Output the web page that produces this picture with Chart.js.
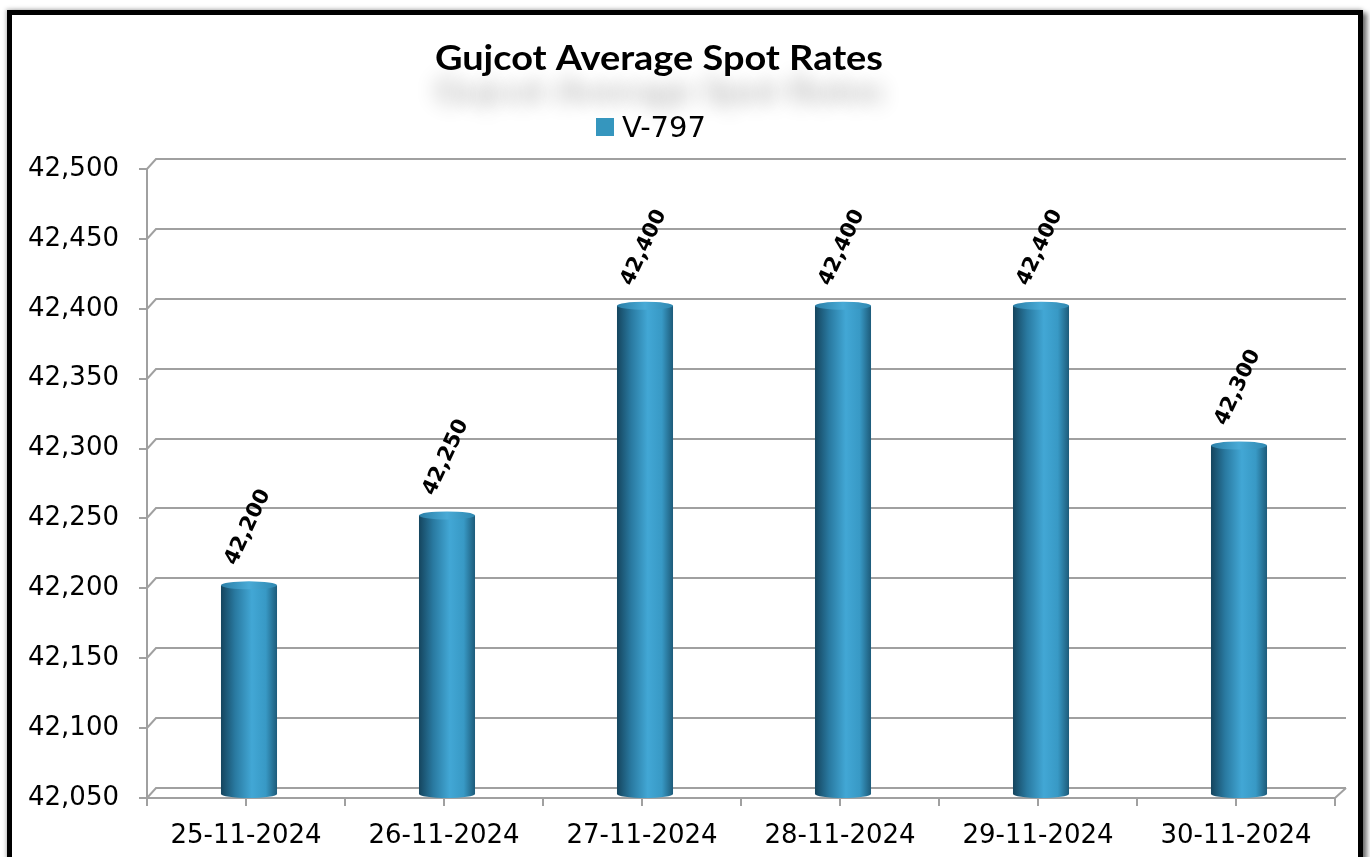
<!DOCTYPE html>
<html>
<head>
<meta charset="utf-8">
<script src="https://cdn.jsdelivr.net/npm/chart.js@4.4.1/dist/chart.umd.min.js"></script>
<style>
  html, body { margin: 0; padding: 0; background: #ffffff; overflow: hidden; }
  #frame {
    position: absolute; left: 7px; top: 10px; width: 1346px; height: 900px;
    border: 5px solid #000; background: #fff;
    box-shadow: 4px 3px 5px rgba(0,0,0,0.55), -1px -1px 4px rgba(0,0,0,0.25);
  }
  #c { position: absolute; left: 0; top: 0; }
</style>
</head>
<body>
<div id="frame"></div>
<canvas id="c" width="1370" height="857"></canvas>
<script>
// ---- data ----
const chartTitle = 'Gujcot Average Spot Rates';
const seriesName = 'V-797';
const categories = ['25-11-2024', '26-11-2024', '27-11-2024', '28-11-2024', '29-11-2024', '30-11-2024'];
const values = [42200, 42250, 42400, 42400, 42400, 42300];
const yTickValues = [42050, 42100, 42150, 42200, 42250, 42300, 42350, 42400, 42450, 42500];

const fmt = v => Number(v).toLocaleString('en-US');
const GRID = '#a0a0a0';
const DX = 9, DY = 10; // 3D depth offset

const gridPlugin = {
  id: 'grid3d',
  beforeDatasetsDraw(chart) {
    const ctx = chart.ctx, a = chart.chartArea, ys = chart.scales.y;
    ctx.save();
    ctx.strokeStyle = GRID; ctx.lineWidth = 2; ctx.lineCap = 'butt';
    ys.ticks.forEach(t => {
      const y = Math.round(ys.getPixelForValue(t.value));
      ctx.beginPath();
      ctx.moveTo(a.left - 8, y); ctx.lineTo(a.left, y);
      ctx.lineTo(a.left + DX, y - DY);
      ctx.lineTo(a.right + DX + 2, y - DY);
      ctx.stroke();
    });
    ctx.beginPath();
    ctx.moveTo(a.left, ys.getPixelForValue(ys.max)); ctx.lineTo(a.left, a.bottom + 8);
    ctx.stroke();
    ctx.beginPath();
    ctx.moveTo(a.left, a.bottom); ctx.lineTo(a.right, a.bottom);
    ctx.lineTo(a.right + DX + 2, a.bottom - DY);
    ctx.stroke();
    const n = categories.length;
    const step = (a.right - a.left) / n / 2;
    for (let i = 0; i <= n * 2; i++) {
      const x = Math.round(a.left + i * step);
      ctx.beginPath(); ctx.moveTo(x, a.bottom); ctx.lineTo(x, a.bottom + 8); ctx.stroke();
    }
    ctx.restore();
  }
};

const cylPlugin = {
  id: 'cyl',
  afterDatasetsDraw(chart) {
    const ctx = chart.ctx, meta = chart.getDatasetMeta(0), a = chart.chartArea;
    ctx.save();
    meta.data.forEach((bar, i) => {
      const w = bar.width, cx = bar.x + 3, x0 = cx - w / 2;
      const top = bar.y - 3, bot = a.bottom - 4, ry = 4;
      const g = ctx.createLinearGradient(x0, 0, x0 + w, 0);
      g.addColorStop(0, '#15455e');
      g.addColorStop(0.25, '#2979a0');
      g.addColorStop(0.55, '#42a7d5');
      g.addColorStop(0.8, '#3899c5');
      g.addColorStop(1, '#1d5b7a');
      ctx.fillStyle = g;
      ctx.fillRect(x0, top, w, bot - top);
      ctx.beginPath(); ctx.ellipse(cx, bot, w / 2, ry, 0, 0, Math.PI * 2); ctx.fill();
      const gt = ctx.createLinearGradient(x0, 0, x0 + w, 0);
      gt.addColorStop(0, '#2b7fa7');
      gt.addColorStop(0.5, '#49aad6');
      gt.addColorStop(1, '#2f88b1');
      ctx.fillStyle = gt;
      ctx.beginPath(); ctx.ellipse(cx, top, w / 2, ry, 0, 0, Math.PI * 2); ctx.fill();
      ctx.save();
      ctx.translate(cx - 1, top - 58);
      ctx.rotate(-65 * Math.PI / 180);
      ctx.fillStyle = '#000';
      ctx.font = 'bold 21px "DejaVu Sans"';
      ctx.textAlign = 'center'; ctx.textBaseline = 'middle';
      ctx.fillText(fmt(values[i]), 0, 0);
      ctx.restore();
    });
    ctx.restore();
  }
};

const headPlugin = {
  id: 'head',
  afterDraw(chart) {
    const ctx = chart.ctx;
    ctx.save();
    ctx.font = 'bold 35px Lato';
    const tw = ctx.measureText(chartTitle).width;
    const sx = 448 / tw;
    ctx.translate(659, 70);
    ctx.scale(sx, 1);
    ctx.textAlign = 'center'; ctx.textBaseline = 'alphabetic';
    ctx.fillStyle = '#000';
    ctx.shadowColor = 'rgba(0,0,0,0.3)';
    ctx.shadowBlur = 20; ctx.shadowOffsetX = 0; ctx.shadowOffsetY = 33;
    ctx.fillText(chartTitle, 0, 0);
    ctx.restore();
    ctx.save();
    ctx.fillStyle = '#3596BE';
    ctx.fillRect(596, 118, 18, 18);
    ctx.fillStyle = '#000';
    ctx.font = '29px "DejaVu Sans"';
    ctx.textAlign = 'left'; ctx.textBaseline = 'alphabetic';
    ctx.fillText(seriesName, 622, 137);
    ctx.restore();
  }
};

new Chart(document.getElementById('c'), {
  type: 'bar',
  data: {
    labels: categories,
    datasets: [{
      label: seriesName,
      data: values,
      backgroundColor: 'rgba(0,0,0,0)',
      borderWidth: 0,
      barPercentage: 0.283,
      categoryPercentage: 1.0
    }]
  },
  options: {
    responsive: false,
    animation: false,
    devicePixelRatio: 1,
    layout: { padding: { left: 0, right: 35, top: 169, bottom: 0 } },
    plugins: { legend: { display: false }, title: { display: false }, tooltip: { enabled: false } },
    scales: {
      y: {
        min: 42050, max: 42500,
        afterFit(s) { s.width = 147; },
        afterBuildTicks(s) { s.ticks = yTickValues.map(v => ({ value: v })); },
        grid: { display: false }, border: { display: false },
        ticks: {
          padding: 20, color: '#000',
          font: { family: 'DejaVu Sans', size: 26 },
          callback: v => fmt(v)
        }
      },
      x: {
        afterFit(s) { s.height = 59; },
        grid: { display: false }, border: { display: false },
        ticks: {
          padding: 15, color: '#000', maxRotation: 0, autoSkip: false,
          font: { family: 'DejaVu Sans', size: 26 }
        }
      }
    }
  },
  plugins: [gridPlugin, cylPlugin, headPlugin]
});
</script>
</body>
</html>
